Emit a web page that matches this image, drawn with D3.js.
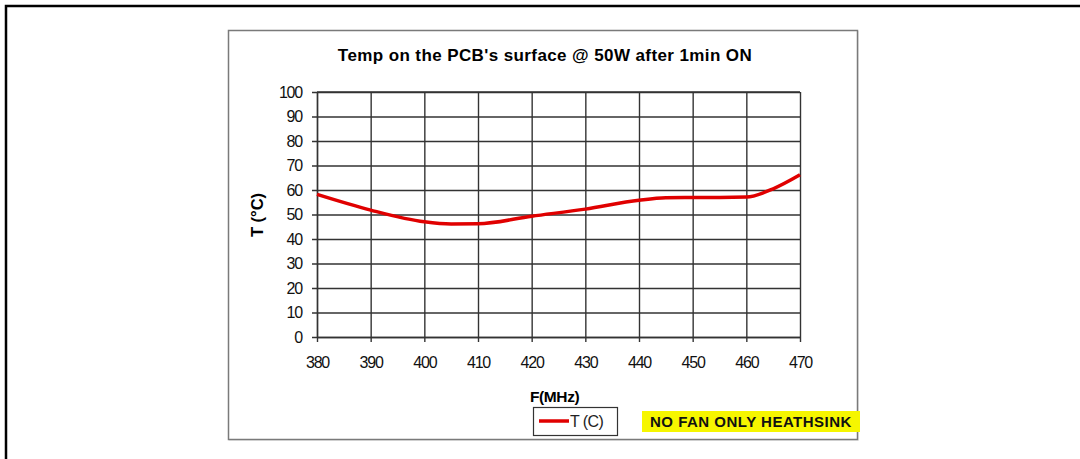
<!DOCTYPE html>
<html>
<head>
<meta charset="utf-8">
<script src="https://cdn.jsdelivr.net/npm/d3@7"></script>
<style>
  body { margin: 0; background: #fff; }
  svg { display: block; font-family: "Liberation Sans", Arial, sans-serif; }
</style>
</head>
<body>
<div id="chart"></div>
<script>
'use strict';

// data
var freqs = [380, 390, 400, 405, 410, 420, 430, 440, 445, 450, 455, 460, 465, 470];
var temps = [58.2, 51.8, 47, 46.1, 46.2, 49.3, 52.2, 55.8, 56.8, 56.9, 56.9, 57.1, 60.5, 66.2];
var xTicks = [380, 390, 400, 410, 420, 430, 440, 450, 460, 470];
var yTicks = [0, 10, 20, 30, 40, 50, 60, 70, 80, 90, 100];
var seriesName = 'T (C)';
var note = 'NO FAN ONLY HEATHSINK';

var W = 1080, H = 459;
var svg = d3.select('#chart').append('svg')
    .attr('width', W)
    .attr('height', H);

// outer page frame
svg.append('path')
    .attr('d', 'M6,' + H + 'V6H' + W)
    .attr('fill', 'none')
    .attr('stroke', '#000')
    .attr('stroke-width', 2.5);

// chart box
svg.append('rect')
    .attr('x', 229).attr('y', 31)
    .attr('width', 630).attr('height', 410)
    .attr('fill', '#ececec');
svg.append('rect')
    .attr('x', 228.5).attr('y', 30.5)
    .attr('width', 629).attr('height', 409)
    .attr('fill', '#fff')
    .attr('stroke', '#7a7a7a')
    .attr('stroke-width', 1.5);

var x = d3.scaleLinear().domain([380, 470]).range([317, 800]);
var y = d3.scaleLinear().domain([0, 100]).range([337, 92]);

var gridColor = '#333';

// horizontal grid + y ticks
var yAxis = svg.append('g')
    .attr('transform', 'translate(317,0)')
    .call(d3.axisLeft(y).tickValues(yTicks).tickSizeInner(5).tickSizeOuter(0).tickPadding(12));
yAxis.select('.domain').attr('stroke', gridColor).attr('stroke-width', 1.4);
yAxis.selectAll('.tick line')
    .attr('x2', 800 - 317)
    .attr('x1', -5)
    .attr('stroke', gridColor)
    .attr('stroke-width', 1.4);
yAxis.selectAll('.tick text')
    .attr('font-size', 16)
    .attr('fill', '#111')
    .attr('x', -15)
    .style('letter-spacing', '-1.2px');

// vertical grid + x ticks
var xAxis = svg.append('g')
    .attr('transform', 'translate(0,337)')
    .call(d3.axisBottom(x).tickValues(xTicks).tickSizeInner(5).tickSizeOuter(0).tickPadding(15));
xAxis.select('.domain').attr('stroke', gridColor).attr('stroke-width', 1.4);
xAxis.selectAll('.tick line')
    .attr('y1', -(337 - 92))
    .attr('y2', 5)
    .attr('stroke', gridColor)
    .attr('stroke-width', 1.4);
xAxis.selectAll('.tick text')
    .attr('font-size', 16)
    .attr('fill', '#111')
    .style('letter-spacing', '-1.2px');

// top border of plot
svg.append('line')
    .attr('x1', x(380)).attr('x2', x(470))
    .attr('y1', y(100)).attr('y2', y(100))
    .attr('stroke', gridColor).attr('stroke-width', 1.4);

// curve
var pts = freqs.map(function (f, i) { return [f, temps[i]]; });
var line = d3.line()
    .x(function (d) { return x(d[0]); })
    .y(function (d) { return y(d[1]); })
    .curve(d3.curveMonotoneX);

svg.append('path')
    .datum(pts)
    .attr('d', line)
    .attr('fill', 'none')
    .attr('stroke', '#e00000')
    .attr('stroke-width', 3.5)
    .attr('stroke-linejoin', 'round');

// title
svg.append('text')
    .attr('x', 545).attr('y', 61)
    .attr('text-anchor', 'middle')
    .attr('font-size', 17)
    .attr('font-weight', 'bold')
    .style('letter-spacing', '0.4px')
    .text("Temp on the PCB's surface @ 50W after 1min ON");

// axis titles
svg.append('text')
    .attr('transform', 'translate(263,215) rotate(-90)')
    .attr('text-anchor', 'middle')
    .attr('font-size', 16.5)
    .attr('font-weight', 'bold')
    .text('T (°C)');

svg.append('text')
    .attr('x', 530).attr('y', 402)
    .attr('font-size', 15.5)
    .attr('font-weight', 'bold')
    .style('letter-spacing', '-0.4px')
    .text('F(MHz)');

// legend
var lg = svg.append('g').attr('transform', 'translate(533,407)');
lg.append('rect')
    .attr('x', 0.5).attr('y', 0.5)
    .attr('width', 84).attr('height', 28)
    .attr('fill', '#fff')
    .attr('stroke', '#333')
    .attr('stroke-width', 1.2);
lg.append('line')
    .attr('x1', 6).attr('x2', 36)
    .attr('y1', 14).attr('y2', 14)
    .attr('stroke', '#e00000')
    .attr('stroke-width', 3.5);
lg.append('text')
    .attr('x', 37).attr('y', 20)
    .attr('font-size', 16)
    .attr('fill', '#222')
    .style('letter-spacing', '-0.6px')
    .text(seriesName);

// yellow note
svg.append('rect')
    .attr('x', 642).attr('y', 411)
    .attr('width', 218).attr('height', 21)
    .attr('fill', '#f6f600');
svg.append('text')
    .attr('x', 751).attr('y', 427)
    .attr('text-anchor', 'middle')
    .attr('font-size', 15)
    .attr('font-weight', 'bold')
    .attr('fill', '#111')
    .style('letter-spacing', '0.5px')
    .text(note);
</script>
</body>
</html>
